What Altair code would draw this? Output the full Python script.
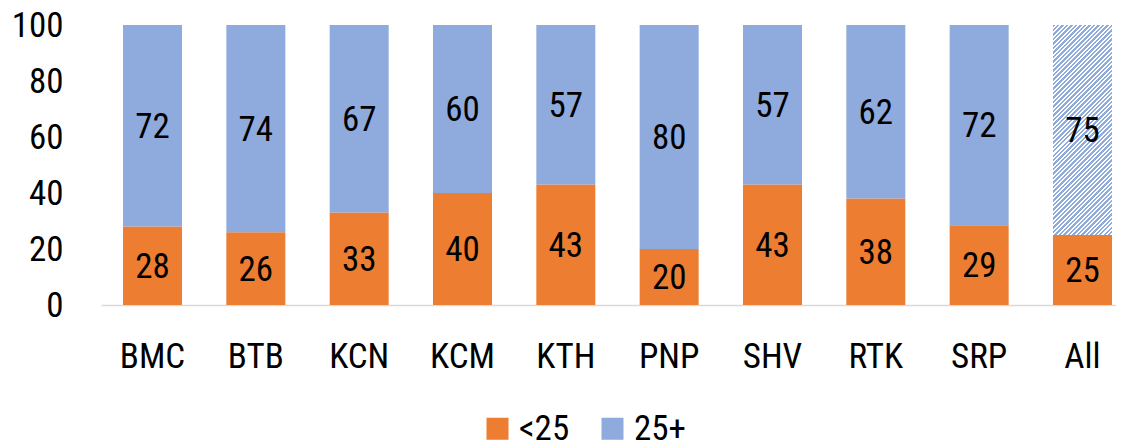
import altair as alt
import pandas as pd

categories = ["BMC", "BTB", "KCN", "KCM", "KTH", "PNP", "SHV", "RTK", "SRP", "All"]
under_25 = [28, 26, 33, 40, 43, 20, 43, 38, 28.5, 25]
over_25 = [72, 74, 67, 60, 57, 80, 57, 62, 71.5, 75]
groups = ["<25", "25+"]
y_ticks = [0, 20, 40, 60, 80, 100]

rows = []
for i, c in enumerate(categories):
    rows.append({"cat": c, "grp": groups[0], "value": under_25[i], "ord": 0})
    rows.append({"cat": c, "grp": groups[1], "value": over_25[i], "ord": 1})
df = pd.DataFrame(rows)

FONT = "Roboto Condensed, DejaVu Sans Condensed, Roboto, sans-serif"
FS = 35
ORANGE = "#ED7D31"
BLUE = "#8FAADC"

# hatch gradient (diagonal stripes) for the "All" 25+ segment
bw, bh = 59.0, 210.0
k = (bw + bh) / (bw * bw + bh * bh)
n_stripes = 60
stops = []
for j in range(n_stripes):
    a = j / n_stripes
    m = (j + 0.55) / n_stripes
    b = (j + 1) / n_stripes
    stops += [
        alt.GradientStop(color=BLUE, offset=a),
        alt.GradientStop(color=BLUE, offset=m),
        alt.GradientStop(color="#FFFFFF", offset=m),
        alt.GradientStop(color="#FFFFFF", offset=b),
    ]
hatch = alt.Gradient(gradient="linear", stops=stops, x1=0, y1=0,
                     x2=round(bw * k, 4), y2=round(bh * k, 4))

xscale = alt.Scale(domain=categories, range=[0, 1033], paddingInner=0.429, paddingOuter=0.213)
yscale = alt.Scale(domain=[0, 100], nice=False)

base = alt.Chart(df).transform_stack(
    stack="value", as_=["y0", "y1"], groupby=["cat"], sort=[alt.SortField("ord")]
)

xenc = alt.X("cat:N", scale=xscale, sort=categories,
             axis=alt.Axis(title=None, labelAngle=0, ticks=False, labelPadding=34,
                           domainColor="#D9D9D9", domainWidth=1.5))
yenc = alt.Y("y0:Q", scale=yscale,
             axis=alt.Axis(title=None, values=y_ticks, ticks=False, domain=False,
                           grid=False, labelPadding=38))

bars = base.transform_filter(
    "!(datum.cat == 'All' && datum.grp == '25+')"
).mark_bar().encode(
    x=xenc,
    y=yenc,
    y2="y1:Q",
    color=alt.Color("grp:N", scale=alt.Scale(domain=groups, range=[ORANGE, BLUE]),
                    legend=alt.Legend(title=None, orient="none", direction="horizontal",
                                      legendX=379, legendY=386, symbolType="square",
                                      symbolSize=484, symbolStrokeWidth=0,
                                      labelFontSize=FS, labelFont=FONT, labelOffset=4,
                                      columnPadding=25, labelColor="#000000")),
)

hatched = base.transform_filter(
    "datum.cat == 'All' && datum.grp == '25+'"
).mark_bar(fill=hatch).encode(x=xenc, y=yenc, y2="y1:Q")

labels = base.transform_calculate(
    mid="(datum.y0 + datum.y1) / 2"
).mark_text(font=FONT, fontSize=FS, color="#000000", baseline="middle", dy=1).encode(
    x=xenc,
    y=alt.Y("mid:Q", scale=yscale),
    text=alt.Text("value:Q", format=".0f"),
)

chart = alt.layer(bars, hatched, labels).properties(
    width=1015, height=280,
    autosize=alt.AutoSizeParams(type="none"),
    padding={"left": 93, "top": 17, "right": 0, "bottom": 140},
).configure_axis(
    labelFont=FONT, labelFontSize=FS, labelColor="#000000",
).configure_view(stroke=None)

chart.save("out.html", embed_options={"renderer": "svg", "actions": False})
